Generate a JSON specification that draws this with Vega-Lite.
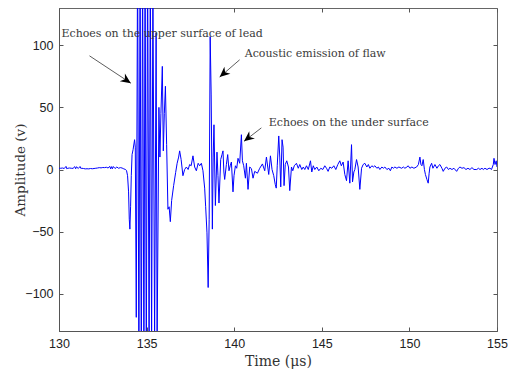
{
"$schema": "https://vega.github.io/schema/vega-lite/v6.json",
"width": 438, "height": 323,
"autosize": {"type": "none"},
"padding": {"left": 59, "top": 8, "right": 11, "bottom": 43},
"background": "white",
"config": {
  "view": {"stroke": "#666", "strokeWidth": 1},
  "axis": {"grid": false, "labelFont": "Liberation Sans", "labelFontSize": 12.5, "labelColor": "#222", "labelFlush": false,
    "titleFont": "DejaVu Serif", "titleFontSize": 13.5, "titleFontWeight": "normal", "titleColor": "#333",
    "tickColor": "#555", "domainColor": "#555", "tickSize": -4, "labelPadding": 10}
},
"datasets": {
"signal": [
{"t":130.0,"v":1},{"t":130.1,"v":1},{"t":130.2,"v":1.2},{"t":130.3,"v":0.8},{"t":130.4,"v":2.5},{"t":130.45,"v":0.5},{"t":130.5,"v":1},{"t":130.6,"v":1.2},{"t":130.7,"v":1},{"t":130.8,"v":0.9},{"t":130.9,"v":2.3},{"t":130.95,"v":0.6},{"t":131.0,"v":2.2},{"t":131.1,"v":0.8},{"t":131.2,"v":2.4},{"t":131.25,"v":0.8},{"t":131.3,"v":1},{"t":131.4,"v":0.8},{"t":131.5,"v":0.5},{"t":131.6,"v":0.6},{"t":131.7,"v":0.5},{"t":131.8,"v":0.8},{"t":131.9,"v":0.6},{"t":132.0,"v":0.8},{"t":132.1,"v":1},{"t":132.2,"v":1.2},{"t":132.3,"v":1.5},{"t":132.4,"v":1.3},{"t":132.5,"v":1.6},{"t":132.6,"v":1.5},{"t":132.7,"v":1.8},{"t":132.8,"v":1.2},{"t":132.9,"v":2.5},{"t":132.95,"v":0.5},{"t":133.0,"v":2.3},{"t":133.05,"v":0.6},{"t":133.1,"v":2.4},{"t":133.2,"v":0.8},{"t":133.3,"v":2},{"t":133.4,"v":1},{"t":133.5,"v":1.5},{"t":133.6,"v":1.2},{"t":133.7,"v":0.5},{"t":133.8,"v":0},
{"t":133.857,"v":-1},{"t":133.914,"v":-5},{"t":133.971,"v":-18},{"t":134.011,"v":-40},{"t":134.046,"v":-48},{"t":134.086,"v":-30},{"t":134.126,"v":-5},{"t":134.171,"v":12},{"t":134.229,"v":16},{"t":134.314,"v":24},{"t":134.354,"v":18},{"t":134.411,"v":-119},{"t":134.486,"v":180},{"t":134.56,"v":-170},{"t":134.629,"v":175},{"t":134.697,"v":-175},{"t":134.771,"v":170},{"t":134.846,"v":-170},{"t":134.914,"v":180},{"t":134.983,"v":-165},{"t":135.057,"v":175},{"t":135.143,"v":-160},{"t":135.211,"v":170},{"t":135.286,"v":-140},{"t":135.36,"v":150},{"t":135.457,"v":-135},{"t":135.543,"v":110},{"t":135.6,"v":-140},{"t":135.703,"v":50},{"t":135.76,"v":10},{"t":135.817,"v":45},{"t":135.897,"v":83},{"t":135.954,"v":15},{"t":136.011,"v":45},{"t":136.074,"v":67},{"t":136.143,"v":20},{"t":136.217,"v":-32},{"t":136.286,"v":-30},{"t":136.354,"v":-42},{"t":136.429,"v":-25},{"t":136.543,"v":-13},{"t":136.657,"v":-2.5},{"t":136.743,"v":5},{"t":136.829,"v":10},{"t":136.886,"v":15},{"t":136.971,"v":8},{"t":137.074,"v":-5},{"t":137.171,"v":0},{"t":137.269,"v":2},{"t":137.371,"v":0},{"t":137.457,"v":4},{"t":137.543,"v":3},{"t":137.646,"v":11},{"t":137.743,"v":2},{"t":137.84,"v":-1},{"t":137.943,"v":5},{"t":138.029,"v":3},{"t":138.126,"v":5},{"t":138.217,"v":-1},{"t":138.314,"v":-15},{"t":138.371,"v":-30},{"t":138.446,"v":-51},{"t":138.514,"v":-95},{"t":138.571,"v":-40},{"t":138.629,"v":107},{"t":138.686,"v":60},{"t":138.754,"v":-48},{"t":138.8,"v":10},{"t":138.846,"v":36},{"t":138.926,"v":-29},{"t":139.017,"v":14},{"t":139.074,"v":-5},{"t":139.131,"v":-27},{"t":139.229,"v":8},{"t":139.303,"v":12},{"t":139.36,"v":15},{"t":139.411,"v":-2},{"t":139.457,"v":-8},{"t":139.554,"v":4},{"t":139.629,"v":12},{"t":139.703,"v":-1},{"t":139.771,"v":3},{"t":139.84,"v":6},{"t":139.931,"v":-18},{"t":139.989,"v":-5},{"t":140.069,"v":3},{"t":140.143,"v":1},{"t":140.217,"v":9},{"t":140.314,"v":5},{"t":140.411,"v":28},{"t":140.469,"v":7},{"t":140.543,"v":3},{"t":140.64,"v":-7},{"t":140.697,"v":5},{"t":140.789,"v":-16},{"t":140.886,"v":2},{"t":140.983,"v":0.7},{"t":141.074,"v":-7},{"t":141.171,"v":-1.5},{"t":141.326,"v":-3},{"t":141.457,"v":1},{"t":141.611,"v":4.5},{"t":141.743,"v":-1},{"t":141.84,"v":10},{"t":141.971,"v":-4},{"t":142.069,"v":11},{"t":142.16,"v":0},{"t":142.257,"v":-5},{"t":142.343,"v":-12},{"t":142.4,"v":-15},{"t":142.457,"v":3},{"t":142.543,"v":27},{"t":142.6,"v":10},{"t":142.657,"v":-14},{"t":142.731,"v":24},{"t":142.789,"v":18},{"t":142.846,"v":-13},{"t":142.914,"v":4},{"t":143.0,"v":7},{"t":143.097,"v":2},{"t":143.171,"v":-17},{"t":143.269,"v":2},{"t":143.343,"v":-1},{"t":143.429,"v":3},{"t":143.554,"v":5},{"t":143.657,"v":1},{"t":143.743,"v":4},{"t":143.857,"v":0},{"t":143.943,"v":2},{"t":144.029,"v":0},{"t":144.126,"v":3},{"t":144.229,"v":0},{"t":144.354,"v":7},{"t":144.429,"v":-2},{"t":144.514,"v":3},{"t":144.6,"v":0},{"t":144.714,"v":2},{"t":144.829,"v":-1},{"t":144.943,"v":1},{"t":145.057,"v":0},{"t":145.171,"v":3},{"t":145.269,"v":1},{"t":145.36,"v":-1.5},{"t":145.457,"v":2},{"t":145.571,"v":1},{"t":145.686,"v":3},{"t":145.8,"v":0},{"t":145.914,"v":4},{"t":146.029,"v":7},{"t":146.114,"v":3},{"t":146.217,"v":6},{"t":146.314,"v":-4},{"t":146.411,"v":-9},{"t":146.503,"v":7},{"t":146.6,"v":-11},{"t":146.697,"v":20},{"t":146.754,"v":-10},{"t":146.829,"v":-2},{"t":146.886,"v":0},{"t":146.983,"v":8},{"t":147.074,"v":2},{"t":147.171,"v":-16},{"t":147.269,"v":1},{"t":147.36,"v":4},{"t":147.457,"v":5},{"t":147.571,"v":2},{"t":147.657,"v":4},{"t":147.743,"v":1},{"t":147.857,"v":3},{"t":147.943,"v":2},{"t":148.029,"v":3},{"t":148.143,"v":1},{"t":148.229,"v":2},{"t":148.314,"v":0},{"t":148.429,"v":2},{"t":148.514,"v":1},{"t":148.6,"v":2},{"t":148.714,"v":0},{"t":148.829,"v":1},{"t":148.914,"v":-1},{"t":149.0,"v":2},{"t":149.086,"v":1},{"t":149.171,"v":2},{"t":149.286,"v":1},{"t":149.4,"v":2},{"t":149.554,"v":1},{"t":149.657,"v":2},{"t":149.743,"v":1},{"t":149.857,"v":2},{"t":149.931,"v":3},{"t":150.029,"v":1},{"t":150.143,"v":2},{"t":150.257,"v":1},{"t":150.411,"v":2},{"t":150.514,"v":4},{"t":150.6,"v":10},{"t":150.657,"v":4},{"t":150.714,"v":3},{"t":150.789,"v":8},{"t":150.857,"v":0},{"t":150.914,"v":-4},{"t":151.0,"v":-8},{"t":151.074,"v":-11},{"t":151.126,"v":-3},{"t":151.171,"v":2},{"t":151.269,"v":5},{"t":151.343,"v":1},{"t":151.457,"v":4},{"t":151.571,"v":1},{"t":151.657,"v":3},{"t":151.743,"v":4},{"t":151.857,"v":1},{"t":151.931,"v":-1.5},{"t":152.029,"v":1},{"t":152.126,"v":2},{"t":152.229,"v":0},{"t":152.314,"v":1},{"t":152.429,"v":0},{"t":152.543,"v":1},{"t":152.697,"v":-1.5},{"t":152.8,"v":1},{"t":152.886,"v":2},{"t":153.0,"v":1},{"t":153.114,"v":1.5},{"t":153.229,"v":0},{"t":153.343,"v":1},{"t":153.457,"v":0},{"t":153.571,"v":1.5},{"t":153.686,"v":0},{"t":153.84,"v":0},{"t":153.943,"v":1},{"t":154.029,"v":0},{"t":154.143,"v":1},{"t":154.217,"v":0},{"t":154.314,"v":1},{"t":154.429,"v":0},{"t":154.543,"v":1},{"t":154.6,"v":1},{"t":154.686,"v":0},{"t":154.789,"v":4},{"t":154.829,"v":9},{"t":154.886,"v":4},{"t":154.954,"v":7},{"t":155.0,"v":2}
],
"notes": [
{"label":"Echoes on the upper surface of lead","tx":130.14,"ty":109,"ax":131.74,"ay":91.5,"hx":134.1,"hy":69.5},
{"label":"Acoustic emission of flaw","tx":140.6,"ty":93.2,"ax":140.31,"ay":88.3,"hx":139.17,"hy":74.4},
{"label":"Echoes on the under surface","tx":141.97,"ty":37.6,"ax":141.55,"ay":33.5,"hx":140.56,"hy":22.7}
]
},
"resolve": {"axis": {"x": "independent", "y": "independent"}},
"layer": [
{"data": {"name": "signal"},
 "mark": {"type": "line", "color": "#0000ff", "strokeWidth": 1, "clip": true},
 "encoding": {
  "x": {"field": "t", "type": "quantitative", "scale": {"domain": [130, 155], "nice": false, "zero": false},
        "axis": {"values": [130,135,140,145,150,155], "title": "Time (μs)", "titlePadding": 5, "titleFontSize": 14}},
  "y": {"field": "v", "type": "quantitative", "scale": {"domain": [-130, 130], "nice": false},
        "axis": {"values": [-100,-50,0,50,100], "title": "Amplitude (v)", "titlePadding": -3}}
 }},
{"data": {"name": "notes"},
 "mark": {"type": "rule", "color": "#333", "strokeWidth": 0.8},
 "encoding": {
  "x": {"field": "ax", "type": "quantitative", "axis": {"orient": "top", "values": [130,135,140,145,150,155], "labels": false, "title": null, "domain": false}},
  "y": {"field": "ay", "type": "quantitative", "axis": {"orient": "right", "values": [-100,-50,0,50,100], "labels": false, "title": null, "domain": false}},
  "x2": {"field": "hx"}, "y2": {"field": "hy"}
 }},
{"data": {"name": "notes"},
 "mark": {"type": "text", "font": "DejaVu Serif", "fontSize": 11, "color": "#3a3a3a", "align": "left", "baseline": "middle"},
 "encoding": {
  "x": {"field": "tx", "type": "quantitative", "axis": null},
  "y": {"field": "ty", "type": "quantitative", "axis": null},
  "text": {"field": "label"}
 }},
{"data": {"name": "notes"}, "transform": [{"filter": "datum.label == 'Echoes on the upper surface of lead'"}],
 "mark": {"type": "point", "filled": true, "color": "black", "opacity": 1, "shape": "M0,0L-1,-0.45L-0.7,0L-1,0.45Z", "size": 420, "angle": 34},
 "encoding": {"x": {"field": "hx", "type": "quantitative", "axis": null}, "y": {"field": "hy", "type": "quantitative", "axis": null}}},
{"data": {"name": "notes"}, "transform": [{"filter": "datum.label == 'Acoustic emission of flaw'"}],
 "mark": {"type": "point", "filled": true, "color": "black", "opacity": 1, "shape": "M0,0L-1,-0.45L-0.7,0L-1,0.45Z", "size": 420, "angle": 139},
 "encoding": {"x": {"field": "hx", "type": "quantitative", "axis": null}, "y": {"field": "hy", "type": "quantitative", "axis": null}}},
{"data": {"name": "notes"}, "transform": [{"filter": "datum.label == 'Echoes on the under surface'"}],
 "mark": {"type": "point", "filled": true, "color": "black", "opacity": 1, "shape": "M0,0L-1,-0.45L-0.7,0L-1,0.45Z", "size": 420, "angle": 142},
 "encoding": {"x": {"field": "hx", "type": "quantitative", "axis": null}, "y": {"field": "hy", "type": "quantitative", "axis": null}}}
]
}
